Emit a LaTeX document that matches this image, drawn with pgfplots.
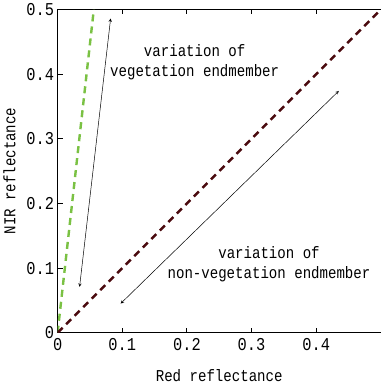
\documentclass[border=0pt]{standalone}
\usepackage{fontspec}
\setmainfont{Liberation Mono}[FakeStretch=0.85]
\usepackage{pgfplots}
\pgfplotsset{compat=1.18}
\definecolor{vegg}{HTML}{7AC143}
\definecolor{soilr}{HTML}{4A0A0E}
\begin{document}
\begin{tikzpicture}
\begin{axis}[
  scale only axis, width=322pt, height=322pt,
  xmin=0, xmax=0.5, ymin=0, ymax=0.5,
  separate axis lines,
  axis x line*=box, axis y line*=left,
  axis line style={line width=1.2pt},
  xtick={0,0.1,0.2,0.3,0.4}, ytick={0,0.1,0.2,0.3,0.4,0.5},
  xticklabels={0,0.1,0.2,0.3,0.4}, yticklabels={0,0.1,0.2,0.3,0.4,0.5},
  xtick pos=both, ytick pos=left,
  tick align=inside, major tick length=5pt,
  tick style={line width=0.8pt, black},
  /pgf/number format/assume math mode=true,
  ticklabel style={font=\fontsize{18}{20}\selectfont},
  yticklabel style={xshift=0pt},
  xticklabel style={yshift=-2pt},
  label style={font=\fontsize{16.5}{19}\selectfont},
  xlabel={Red reflectance}, ylabel={NIR reflectance},
  xlabel style={yshift=-12pt}, ylabel style={yshift=4pt},
  clip=true,
]
\addplot[vegg, line width=2.4pt, dash pattern=on 7pt off 5pt] coordinates {(0,0) (0.056,0.5)};
\addplot[soilr, line width=2.4pt, dash pattern=on 7pt off 5pt] coordinates {(0,0) (0.5,0.5)};
\addplot[black, line width=0.5pt, <->, >=stealth] coordinates {(0.034,0.071) (0.082,0.486)};
\addplot[black, line width=0.5pt, <->, >=stealth] coordinates {(0.0975,0.045) (0.435,0.374)};
\node[align=center, font=\fontsize{16.5}{20}\selectfont] at (axis cs:0.212,0.418) {variation of\\vegetation endmember};
\node[align=center, font=\fontsize{16.5}{20}\selectfont] at (axis cs:0.327,0.106) {variation of\\non-vegetation endmember};
\end{axis}
\end{tikzpicture}
\end{document}
